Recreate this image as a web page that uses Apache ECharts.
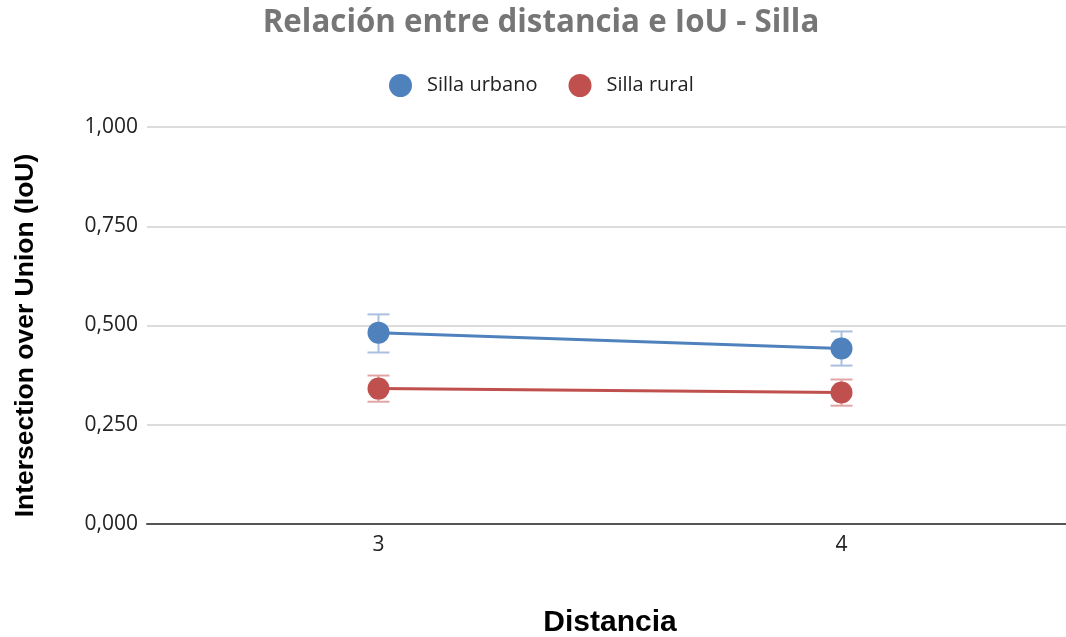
<!DOCTYPE html>
<html><head><meta charset="utf-8">
<script src="https://cdn.jsdelivr.net/npm/echarts@6/dist/echarts.min.js"></script>
<style>html,body{margin:0;padding:0;background:#fff;overflow:hidden}#c{width:1066px;height:637px}</style>
</head><body><div id="c"></div>
<script>
const categories = ['3', '4'];
const urbanoValues = [0.482, 0.442];
const urbanoLow = [0.432, 0.399];
const urbanoHigh = [0.528, 0.485];
const ruralValues = [0.341, 0.331];
const ruralLow = [0.308, 0.298];
const ruralHigh = [0.374, 0.364];
const seriesNames = ['Silla urbano', 'Silla rural'];

const blue = '#4f81bd', red = '#c0504d';
const blueErr = '#a9c1de', redErr = '#e0a6a5';

function errSeries(low, high, color) {
  return {
    type: 'custom',
    silent: true,
    z: 1,
    data: categories.map((c, i) => [i, low[i], high[i]]),
    renderItem: function (params, api) {
      const lo = api.coord([api.value(0), api.value(1)]);
      const hi = api.coord([api.value(0), api.value(2)]);
      const hw = 11;
      const st = { stroke: color, lineWidth: 2 };
      return { type: 'group', children: [
        { type: 'line', shape: { x1: hi[0], y1: hi[1], x2: lo[0], y2: lo[1] }, style: st },
        { type: 'line', shape: { x1: hi[0] - hw, y1: hi[1], x2: hi[0] + hw, y2: hi[1] }, style: st },
        { type: 'line', shape: { x1: lo[0] - hw, y1: lo[1], x2: lo[0] + hw, y2: lo[1] }, style: st }
      ]};
    }
  };
}

const chart = echarts.init(document.getElementById('c'), null, { renderer: 'canvas' });
chart.setOption({
  animation: false,
  title: {
    text: 'Relación entre distancia e IoU - Silla',
    left: 536, textAlign: 'center', top: 3,
    textStyle: { fontFamily: 'Open Sans', fontWeight: 'bold', fontSize: 31.3, color: '#767676' }
  },
  legend: {
    data: seriesNames,
    top: 69, left: 384,
    icon: 'circle', itemWidth: 23, itemHeight: 23, itemGap: 31,
    textStyle: { fontFamily: 'Open Sans', fontSize: 20, color: '#222', padding: [0, 0, 0, 10] }
  },
  grid: { left: 147, right: -7, top: 127, bottom: 113, containLabel: false, outerBoundsMode: 'none' },
  xAxis: {
    type: 'category', data: categories, boundaryGap: true,
    axisLine: { lineStyle: { color: '#555', width: 2 } },
    axisTick: { show: false },
    axisLabel: { fontFamily: 'Open Sans', fontSize: 21, color: '#222', margin: 11 },
    name: 'Distancia', nameLocation: 'middle', nameGap: 84,
    nameTextStyle: { fontFamily: 'Liberation Sans', fontWeight: 'bold', fontSize: 30, color: '#000' }
  },
  yAxis: {
    type: 'value', min: 0, max: 1, interval: 0.25,
    axisLine: { show: false }, axisTick: { show: false },
    splitLine: { lineStyle: { color: '#d0d0d0', width: 1.5 } },
    axisLabel: { fontFamily: 'Open Sans', fontSize: 21, color: '#222', margin: 9,
      formatter: v => v.toFixed(3).replace('.', ',') },
    name: 'Intersection over Union (IoU)', nameLocation: 'middle', nameGap: 108, nameRotate: 90,
    nameTextStyle: { fontFamily: 'Liberation Sans', fontWeight: 'bold', fontSize: 26.5, color: '#000', padding: [0, 20, 0, 0] }
  },
  series: [
    errSeries(urbanoLow, urbanoHigh, blueErr),
    errSeries(ruralLow, ruralHigh, redErr),
    { name: seriesNames[0], type: 'line', data: urbanoValues, symbol: 'circle', symbolSize: 22, z: 3,
      itemStyle: { color: blue }, lineStyle: { color: blue, width: 3 } },
    { name: seriesNames[1], type: 'line', data: ruralValues, symbol: 'circle', symbolSize: 22, z: 3,
      itemStyle: { color: red }, lineStyle: { color: red, width: 3 } }
  ]
});
</script></body></html>
